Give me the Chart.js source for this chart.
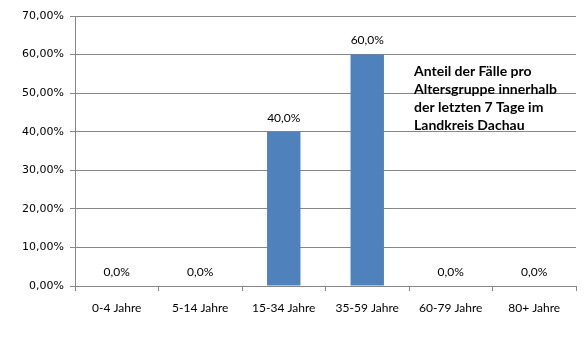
<!DOCTYPE html>
<html lang="de">
<head>
  <meta charset="UTF-8" />
  <title>Anteil der Fälle pro Altersgruppe</title>
  <script src="https://cdn.jsdelivr.net/npm/chart.js"></script>
  <style>
    html, body { margin: 0; padding: 0; background: #fff; }
    #wrap { width: 587px; height: 338px; }
  </style>
</head>
<body>
  <div id="wrap"><canvas id="chart" width="587" height="338"></canvas></div>
  <script>
    const categories = ['0-4 Jahre', '5-14 Jahre', '15-34 Jahre', '35-59 Jahre', '60-79 Jahre', '80+ Jahre'];
    const shares = [0, 0, 0.40, 0.60, 0, 0];
    const noteLines = ['Anteil der Fälle pro', 'Altersgruppe innerhalb', 'der letzten 7 Tage im', 'Landkreis Dachau'];

    const grey = '#878787';
    const pct = (v, d) => (v * 100).toFixed(d).replace('.', ',') + '%';

    // value labels above the bars
    const valueLabels = {
      id: 'valueLabels',
      afterDatasetsDraw(chart) {
        const ctx = chart.ctx;
        const meta = chart.getDatasetMeta(0);
        ctx.save();
        ctx.font = '12px Lato, "Open Sans", sans-serif';
        ctx.fillStyle = '#000';
        ctx.textAlign = 'center';
        ctx.textBaseline = 'middle';
        meta.data.forEach((bar, i) => {
          ctx.fillText(pct(shares[i], 1), bar.x, bar.y - 14);
        });
        ctx.restore();
      }
    };

    // text box inside the plot
    const note = {
      id: 'note',
      afterDraw(chart) {
        const ctx = chart.ctx;
        const x = chart.scales.x;
        const y = chart.scales.y;
        ctx.save();
        ctx.font = 'bold 14px Lato, "Open Sans", sans-serif';
        ctx.fillStyle = '#000';
        ctx.textAlign = 'left';
        ctx.textBaseline = 'middle';
        const left = (x.getPixelForValue(3) + x.getPixelForValue(4)) / 2 + 5;
        const top = y.getPixelForValue(0.555);
        noteLines.forEach((t, i) => ctx.fillText(t, left, top + i * 17.7));
        ctx.restore();
      }
    };

    new Chart(document.getElementById('chart'), {
      type: 'bar',
      data: {
        labels: categories,
        datasets: [{
          data: shares,
          backgroundColor: '#4F81BD',
          categoryPercentage: 0.8,
          barPercentage: 0.5
        }]
      },
      options: {
        responsive: false,
        animation: false,
        layout: { padding: { top: 16, right: 11, left: 0, bottom: 0 } },
        plugins: { legend: { display: false }, tooltip: { enabled: false } },
        scales: {
          x: {
            grid: { display: true, drawOnChartArea: false, color: grey, tickLength: 5, offset: true },
            border: { color: grey },
            ticks: { color: '#000', font: { family: 'Lato', size: 12 }, padding: 10, maxRotation: 0 },
            afterFit: s => { s.height = 52; }
          },
          y: {
            min: 0,
            max: 0.7,
            grid: { color: grey, tickLength: 5 },
            border: { color: grey },
            ticks: {
              stepSize: 0.1,
              color: '#000',
              font: { family: 'DejaVu Sans', size: 11 },
              padding: 6,
              callback: v => pct(v, 2)
            },
            afterFit: s => { s.width = 75; }
          }
        }
      },
      plugins: [valueLabels, note]
    });
  </script>
</body>
</html>
